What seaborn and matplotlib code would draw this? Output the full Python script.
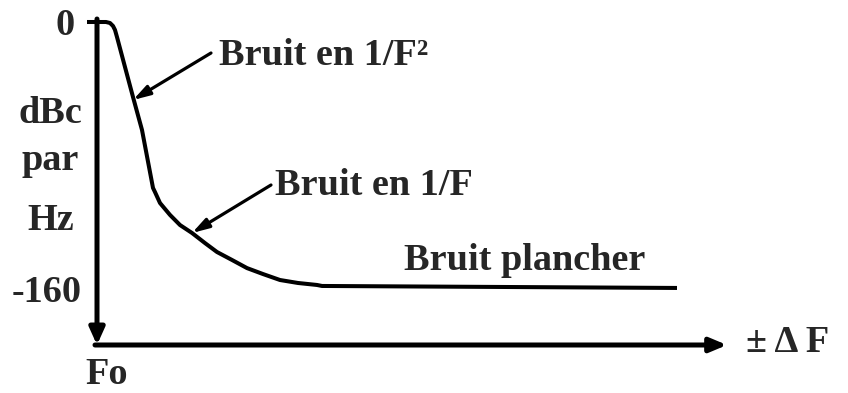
import matplotlib
matplotlib.use("Agg")
import matplotlib.pyplot as plt
import seaborn as sns
import pandas as pd

# Curve: frequency offset (arbitrary units from Fo) and level in dBc/Hz
offset = [0, 9, 13, 16, 18, 20, 36, 45, 56, 58, 63, 73, 83, 95, 108, 120, 135, 150,
          166, 183, 201, 220, 225, 403, 580]
level_dbc = [0, 0, -0.6, -2.4, -4.8, -9.1, -45.3, -65.2, -100.2, -102.7, -109.3, -116.5,
             -122.6, -127.4, -133.5, -138.9, -143.7, -148.6, -152.2, -155.8, -157.6,
             -158.8, -159.4, -160.0, -160.6]

y_ticks = [0, -160]
y_tick_labels = ["0", "-160"]
y_label_lines = ["dBc", "par", "Hz"]
x_origin_label = "Fo"
x_axis_label = "± Δ F"
annotations = ["Bruit en 1/F²", "Bruit en 1/F", "Bruit plancher"]

sns.set_theme(style="white")
plt.rcParams["font.family"] = ["Liberation Serif", "DejaVu Serif"]
plt.rcParams["font.weight"] = "bold"

fig = plt.figure(figsize=(8.48, 3.93), dpi=100)
ax = fig.add_axes([0, 0, 1, 1])
PX = 1 / 1.656  # dB per pixel
ax.set_xlim(-97, 751)
ax.set_ylim(-(393 - 22) * PX, 22 * PX)
ax.axis("off")


def pos(px, py):
    return px - 97, -(py - 22) * PX


df = pd.DataFrame({"offset": offset, "level": level_dbc})
sns.lineplot(data=df, x="offset", y="level", ax=ax, color="black", lw=2.9,
             sort=False, estimator=None, solid_capstyle="butt", solid_joinstyle="round")

fs = 27.5
y_axis_bottom = pos(0, 345)[1]
x_axis_end = 630

# axes with arrows
ax.annotate("", xy=(0, y_axis_bottom), xytext=(0, pos(0, 19)[1]),
            arrowprops=dict(arrowstyle="-|>,head_length=1.0,head_width=0.45", lw=3.6,
                            color="black", shrinkA=0, shrinkB=0, mutation_scale=10))
ax.annotate("", xy=(x_axis_end, y_axis_bottom), xytext=(-2, y_axis_bottom),
            arrowprops=dict(arrowstyle="-|>,head_length=1.0,head_width=0.42", lw=3.6,
                            color="black", shrinkA=0, shrinkB=0, mutation_scale=10))
ax.plot([-10, 0], [0, 0], color="black", lw=2.9, solid_capstyle="butt")

kw = dict(fontsize=fs, fontweight="bold", va="baseline")
# tick labels
ax.text(*pos(65, 35), y_tick_labels[0], ha="center", **kw)
ax.text(*pos(47, 302), y_tick_labels[1], ha="center", **kw)
for (px, py), line in zip([(50, 123), (50, 170), (51, 230)], y_label_lines):
    ax.text(*pos(px, py), line, ha="center", **kw)
ax.text(*pos(107, 384), x_origin_label, ha="center", **kw)
ax.text(*pos(746, 352), x_axis_label, ha="left", **kw)

# annotations
arrow = dict(arrowstyle="-|>,head_length=1.0,head_width=0.3", lw=2.3, color="black",
             shrinkA=0, shrinkB=0, mutation_scale=10)
ax.annotate("", xy=pos(133, 100), xytext=pos(211, 53), arrowprops=arrow)
ax.text(*pos(219, 65), annotations[0], ha="left", **kw)
ax.annotate("", xy=pos(192, 233), xytext=pos(271, 185), arrowprops=arrow)
ax.text(*pos(275, 195), annotations[1], ha="left", **kw)
ax.text(*pos(404, 270), annotations[2], ha="left", **kw)

fig.savefig("out.png", dpi=100)
